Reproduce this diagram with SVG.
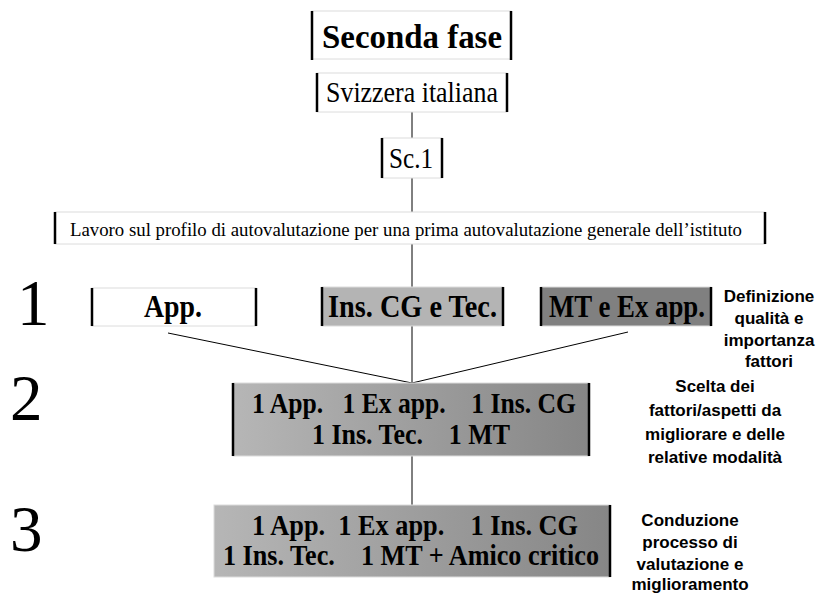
<svg xmlns="http://www.w3.org/2000/svg" width="818" height="593" viewBox="0 0 818 593">
  <defs>
    <linearGradient id="shade" x1="0" y1="0" x2="1" y2="0">
      <stop offset="0" stop-color="#b6b6b6"/>
      <stop offset="1" stop-color="#868686"/>
    </linearGradient>
    <style>
      .frame { stroke: #dcdcdc; stroke-width: 1; }
      .side { stroke: #000; stroke-width: 2.5; }
      .wire { stroke: #000; stroke-width: 1; fill: none; }
      .serif { font-family: "Liberation Serif", "Times New Roman", serif; fill: #000; }
      .bold { font-weight: bold; }
      .note { font-family: "Liberation Sans", Arial, sans-serif; font-weight: bold; font-size: 17px; fill: #000; text-anchor: middle; }
      .step { font-family: "Liberation Serif", "Times New Roman", serif; font-size: 65px; fill: #000; }
    </style>
  </defs>
  <rect width="818" height="593" fill="#fff"/>

  <g id="connectors">
    <line class="wire" x1="412" y1="112" x2="412" y2="138"/>
    <line class="wire" x1="412" y1="178" x2="412" y2="212"/>
    <line class="wire" x1="412" y1="244" x2="412" y2="287"/>
    <line class="wire" x1="412" y1="326" x2="412" y2="383"/>
    <line class="wire" x1="168" y1="333" x2="412" y2="383"/>
    <line class="wire" x1="628" y1="332" x2="412" y2="383"/>
    <line class="wire" x1="412" y1="456" x2="412" y2="505"/>
  </g>

  <g id="title">
    <rect class="frame" x="312" y="11" width="199" height="48" fill="#fff"/>
    <line class="side" x1="312" y1="11" x2="312" y2="60"/>
    <line class="side" x1="511" y1="11" x2="511" y2="60"/>
    <text class="serif bold" x="322" y="48" font-size="34" textLength="180" lengthAdjust="spacingAndGlyphs">Seconda fase</text>
  </g>

  <g id="region">
    <rect class="frame" x="317" y="73" width="190" height="39" fill="#fff"/>
    <line class="side" x1="317" y1="73" x2="317" y2="112"/>
    <line class="side" x1="507" y1="73" x2="507" y2="112"/>
    <text class="serif" x="326" y="102" font-size="29" textLength="172" lengthAdjust="spacingAndGlyphs">Svizzera italiana</text>
  </g>

  <g id="school">
    <rect class="frame" x="382" y="138" width="60" height="40" fill="#fff"/>
    <line class="side" x1="382" y1="138" x2="382" y2="178"/>
    <line class="side" x1="442" y1="138" x2="442" y2="178"/>
    <text class="serif" x="389" y="168" font-size="29" textLength="44" lengthAdjust="spacingAndGlyphs">Sc.1</text>
  </g>

  <g id="profile">
    <rect class="frame" x="55" y="212" width="710" height="32" fill="#fff"/>
    <line class="side" x1="55" y1="212" x2="55" y2="244"/>
    <line class="side" x1="765" y1="212" x2="765" y2="244"/>
    <text class="serif" x="70" y="236" font-size="19" textLength="672" lengthAdjust="spacingAndGlyphs">Lavoro sul profilo di autovalutazione per una prima autovalutazione generale dell’istituto</text>
  </g>

  <g id="step-numbers">
    <text class="step" x="17" y="325">1</text>
    <text class="step" x="10" y="420">2</text>
    <text class="step" x="10" y="551">3</text>
  </g>

  <g id="group-app">
    <rect class="frame" x="92" y="288" width="164" height="38" fill="#fff"/>
    <line class="side" x1="92" y1="288" x2="92" y2="326"/>
    <line class="side" x1="256" y1="288" x2="256" y2="326"/>
    <text class="serif bold" x="144" y="317" font-size="31" textLength="58" lengthAdjust="spacingAndGlyphs">App.</text>
  </g>

  <g id="group-teachers">
    <rect class="frame" x="322" y="287" width="181" height="39" fill="#b4b4b4"/>
    <line class="side" x1="322" y1="287" x2="322" y2="326"/>
    <line class="side" x1="503" y1="287" x2="503" y2="326"/>
    <text class="serif bold" x="328" y="317" font-size="31" textLength="169" lengthAdjust="spacingAndGlyphs">Ins. CG e Tec.</text>
  </g>

  <g id="group-mt">
    <rect class="frame" x="541" y="287" width="170" height="39" fill="#808080"/>
    <line class="side" x1="541" y1="287" x2="541" y2="326"/>
    <line class="side" x1="711" y1="287" x2="711" y2="326"/>
    <text class="serif bold" x="549" y="317" font-size="31" textLength="156" lengthAdjust="spacingAndGlyphs">MT e Ex app.</text>
  </g>

  <g id="team">
    <rect class="frame" x="233" y="383" width="356" height="73" fill="url(#shade)"/>
    <line class="side" x1="233" y1="383" x2="233" y2="456"/>
    <line class="side" x1="589" y1="383" x2="589" y2="456"/>
    <text class="serif bold" x="252" y="413" font-size="29" textLength="324" lengthAdjust="spacingAndGlyphs" xml:space="preserve">1 App.   1 Ex app.    1 Ins. CG</text>
    <text class="serif bold" x="312" y="444" font-size="29" textLength="198" lengthAdjust="spacingAndGlyphs" xml:space="preserve">1 Ins. Tec.    1 MT</text>
  </g>

  <g id="team-friend">
    <rect class="frame" x="214" y="505" width="396" height="72" fill="url(#shade)"/>
    <line class="side" x1="610" y1="505" x2="610" y2="577"/>
    <text class="serif bold" x="252" y="535" font-size="29" textLength="326" lengthAdjust="spacingAndGlyphs" xml:space="preserve">1 App.  1 Ex app.    1 Ins. CG</text>
    <text class="serif bold" x="223" y="565" font-size="29" textLength="376" lengthAdjust="spacingAndGlyphs" xml:space="preserve">1 Ins. Tec.    1 MT + Amico critico</text>
  </g>

  <g id="note-1">
    <text class="note" x="769" y="302">Definizione</text>
    <text class="note" x="769" y="324">qualità e</text>
    <text class="note" x="769" y="346">importanza</text>
    <text class="note" x="769" y="367">fattori</text>
  </g>

  <g id="note-2">
    <text class="note" x="715" y="392">Scelta dei</text>
    <text class="note" x="715" y="416">fattori/aspetti da</text>
    <text class="note" x="715" y="440">migliorare e delle</text>
    <text class="note" x="715" y="463">relative modalità</text>
  </g>

  <g id="note-3">
    <text class="note" x="690" y="526">Conduzione</text>
    <text class="note" x="690" y="548">processo di</text>
    <text class="note" x="690" y="570">valutazione e</text>
    <text class="note" x="690" y="590">miglioramento</text>
  </g>
</svg>
